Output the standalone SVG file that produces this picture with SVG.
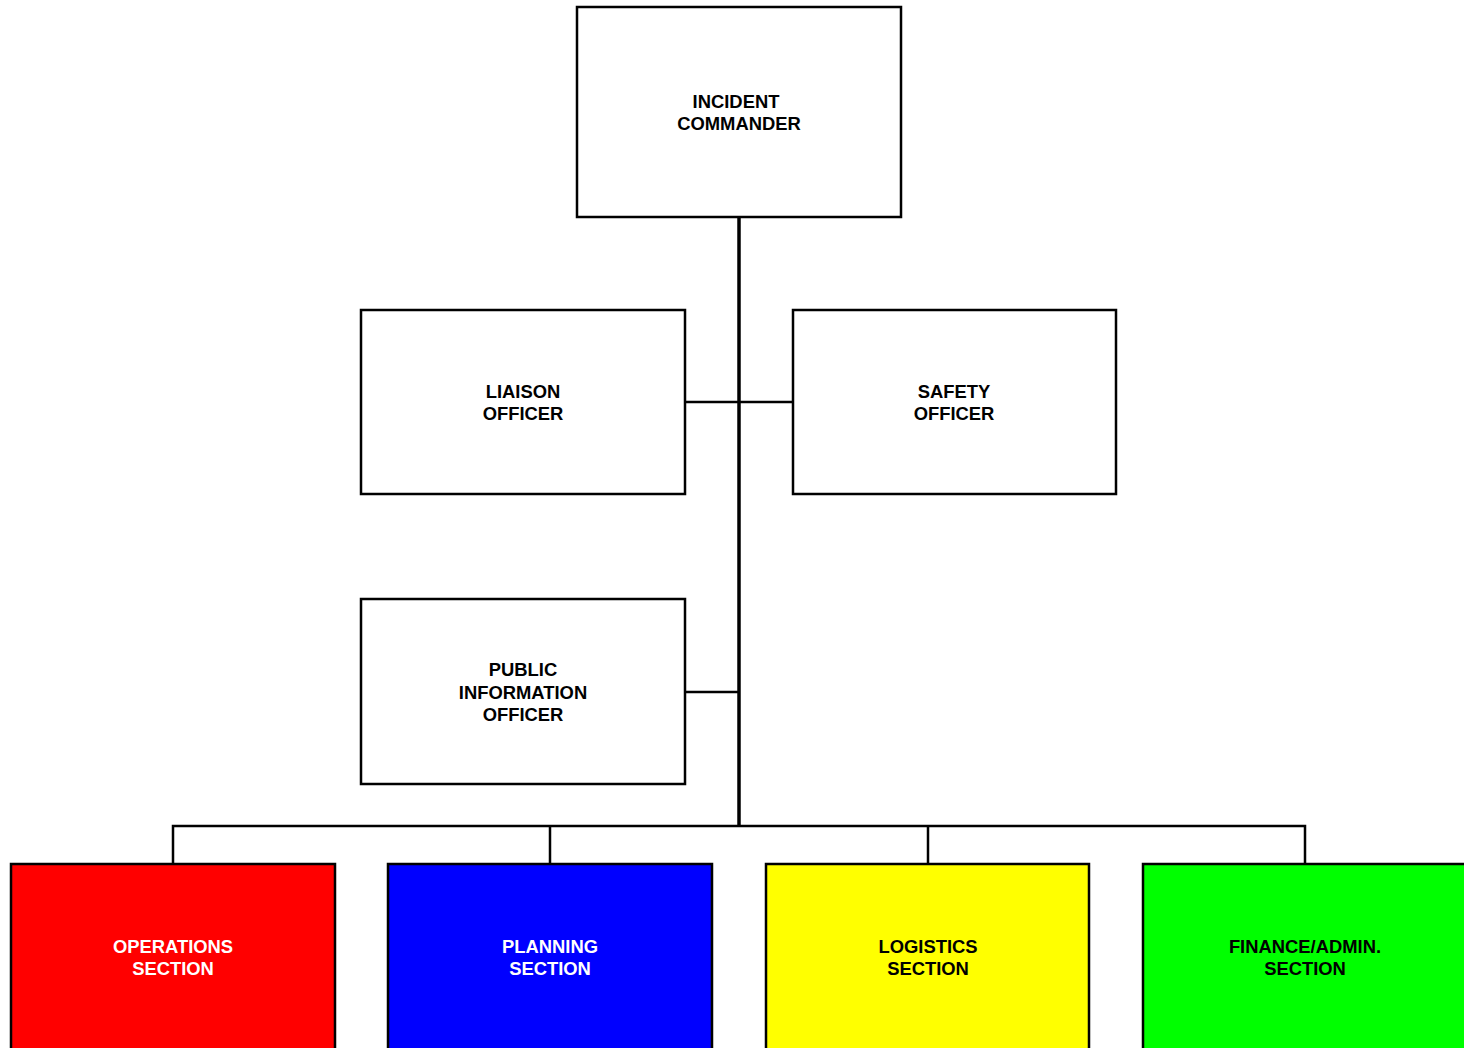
<svg xmlns="http://www.w3.org/2000/svg" width="1464" height="1048" viewBox="0 0 1464 1048">
<style>
.box{stroke:#000;stroke-width:2.5}
.t{font-family:"Liberation Sans",Arial,sans-serif;font-weight:bold;font-size:18.4px;text-anchor:middle}
.c{stroke:#000;fill:none}
</style>
<rect width="1464" height="1048" fill="#fff"/>
<g id="connectors">
<line class="c" x1="739" y1="217" x2="739" y2="827" stroke-width="3.5"/>
<line class="c" x1="685" y1="402" x2="793" y2="402" stroke-width="2.5"/>
<line class="c" x1="685" y1="692" x2="739" y2="692" stroke-width="2.5"/>
<polyline class="c" points="173,864 173,826 1305,826 1305,864" stroke-width="2.5"/>
<line class="c" x1="550" y1="826" x2="550" y2="864" stroke-width="2.5"/>
<line class="c" x1="928" y1="826" x2="928" y2="864" stroke-width="2.5"/>
</g>
<g id="incident-commander">
<rect class="box" x="577" y="7" width="324" height="210" fill="#fff"/>
<text class="t" x="736" y="108">INCIDENT</text>
<text class="t" x="739" y="130">COMMANDER</text>
</g>
<g id="liaison-officer">
<rect class="box" x="361" y="310" width="324" height="184" fill="#fff"/>
<text class="t" x="523" y="398">LIAISON</text>
<text class="t" x="523" y="420">OFFICER</text>
</g>
<g id="safety-officer">
<rect class="box" x="793" y="310" width="323" height="184" fill="#fff"/>
<text class="t" x="954" y="398">SAFETY</text>
<text class="t" x="954" y="420">OFFICER</text>
</g>
<g id="public-information-officer">
<rect class="box" x="361" y="599" width="324" height="185" fill="#fff"/>
<text class="t" x="523" y="676">PUBLIC</text>
<text class="t" x="523" y="699">INFORMATION</text>
<text class="t" x="523" y="721">OFFICER</text>
</g>
<g id="operations-section">
<rect class="box" x="11" y="864" width="324" height="200" fill="#ff0000"/>
<text class="t" x="173" y="953" fill="#fff">OPERATIONS</text>
<text class="t" x="173" y="975" fill="#fff">SECTION</text>
</g>
<g id="planning-section">
<rect class="box" x="388" y="864" width="324" height="200" fill="#0000ff"/>
<text class="t" x="550" y="953" fill="#fff">PLANNING</text>
<text class="t" x="550" y="975" fill="#fff">SECTION</text>
</g>
<g id="logistics-section">
<rect class="box" x="766" y="864" width="323" height="200" fill="#ffff00"/>
<text class="t" x="928" y="953">LOGISTICS</text>
<text class="t" x="928" y="975">SECTION</text>
</g>
<g id="finance-admin-section">
<rect class="box" x="1143" y="864" width="324" height="200" fill="#00ff00"/>
<text class="t" x="1305" y="953">FINANCE/ADMIN.</text>
<text class="t" x="1305" y="975">SECTION</text>
</g>
</svg>
